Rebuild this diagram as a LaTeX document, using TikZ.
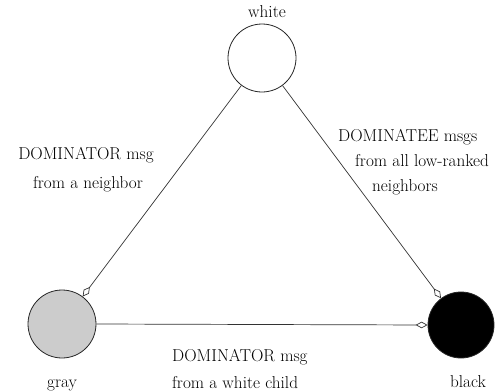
\documentclass[tikz,border=0pt]{standalone}
\usetikzlibrary{arrows.meta}
\begin{document}
\begin{tikzpicture}[x=1pt,y=-1pt,
  state/.style={circle,draw=black!85,line width=0.8pt,minimum size=68pt,inner sep=0pt},
  lbl/.style={font=\fontsize{17.2}{20}\selectfont,inner sep=0pt},
  conn/.style={draw=black!80,line width=0.7pt,-{Kite[open,length=12pt,width=6.5pt,inset=6pt,line width=0.7pt]}}]
\useasboundingbox (0,0) rectangle (501,391);
\node[state,fill=white] (w) at (262,58) {};
\node[state,fill=black!20] (g) at (62,324) {};
\node[state,fill=black,minimum size=66pt] (b) at (461,325) {};
\node[lbl,anchor=base] (tw) at (267,17) {white};
\node[lbl,anchor=base] (tg) at (62,387) {gray};
\node[lbl,anchor=base] (tb) at (468,387) {black};
\draw[conn] (w) -- (g);
\draw[conn] (w) -- (b);
\draw[conn] (g.east) -- (b.west);
\node[lbl,anchor=base] (l1) at (86,159) {DOMINATOR msg};
\node[lbl,anchor=base] (l2) at (88,188) {from a neighbor};
\node[lbl,anchor=base west] (r1) at (338,141) {DOMINATEE msgs};
\node[lbl,anchor=base west] (r2) at (355,166) {from all low-ranked};
\node[lbl,anchor=base west] (r3) at (372,191) {neighbors};
\node[lbl,anchor=base west] (c1) at (172,361) {DOMINATOR msg};
\node[lbl,anchor=base west] (c2) at (172,388) {from a white child};
\end{tikzpicture}
\end{document}
